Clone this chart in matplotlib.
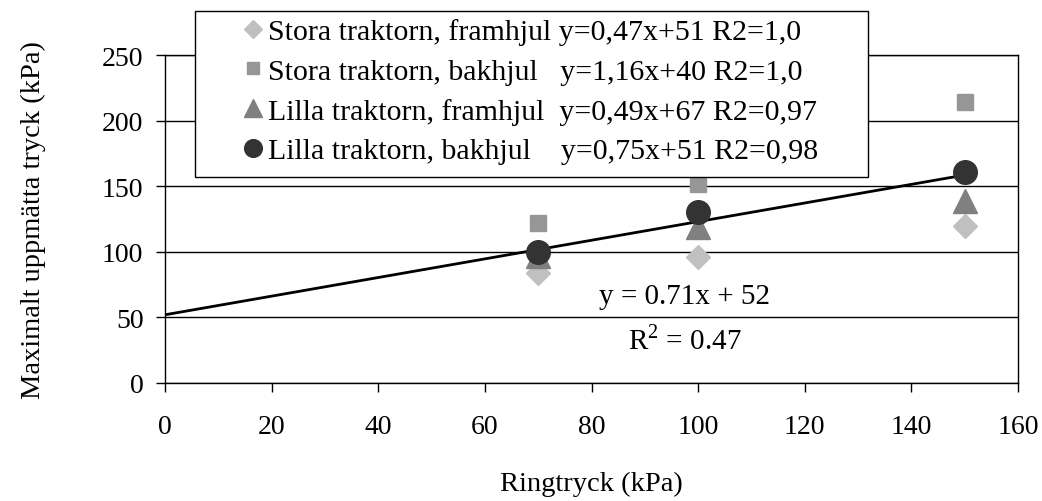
import matplotlib.pyplot as plt
from matplotlib.patches import Rectangle

plt.rcParams['font.family'] = ['Liberation Serif', 'DejaVu Serif']
plt.rcParams['mathtext.fontset'] = 'custom'
plt.rcParams['mathtext.rm'] = 'Liberation Serif'

# Ringtryck (kPa)
ringtryck = [70, 100, 150]

# Maximalt uppmätta tryck (kPa) per serie
stora_fram = [84, 96, 120]
stora_bak = [122, 152, 214]
lilla_fram = [97, 119, 139]
lilla_bak = [100, 130, 161]

etiketter = [
    'Stora traktorn, framhjul y=0,47x+51 R2=1,0',
    'Stora traktorn, bakhjul   y=1,16x+40 R2=1,0',
    'Lilla traktorn, framhjul  y=0,49x+67 R2=0,97',
    'Lilla traktorn, bakhjul    y=0,75x+51 R2=0,98',
]

# Gemensam trendlinje
k, m = 0.71, 52
trend_x = [0, 150]

W, H = 1042, 502
fig = plt.figure(figsize=(W / 100, H / 100), dpi=100)
ax = fig.add_axes([165 / W, 1 - 384 / H, (1018 - 165) / W, (384 - 56) / H])

ax.set_axisbelow(True)
ax.grid(axis='y', color='black', linewidth=1.0)

ax.plot(trend_x, [k * x + m for x in trend_x], color='black', linewidth=2, zorder=4)

ax.plot(ringtryck, stora_fram, linestyle='none', marker='D', markersize=12,
        color='#c0c0c0', label=etiketter[0], zorder=3)
ax.plot(ringtryck, stora_bak, linestyle='none', marker='s', markersize=11,
        color='#969696', label=etiketter[1], zorder=3)
ax.plot(ringtryck, lilla_fram, linestyle='none', marker='^', markersize=17,
        color='#808080', label=etiketter[2], zorder=3)
ax.plot(ringtryck, lilla_bak, linestyle='none', marker='o', markersize=17,
        color='#333333', label=etiketter[3], zorder=5)

ax.text(97.5, 66, 'y = 0.71x + 52', fontsize=21, ha='center', va='center')
ax.text(97.5, 33, 'R$^2$ = 0.47', fontsize=21, ha='center', va='center')

ax.set_xlim(0, 160)
ax.set_ylim(0, 250)
ax.set_xticks(range(0, 161, 20))
ax.set_yticks(range(0, 251, 50))
ax.tick_params(labelsize=20, direction='out', length=6.5, width=1)
ax.tick_params(axis='x', pad=16)
ax.tick_params(axis='y', pad=9)
for s in ax.spines.values():
    s.set_linewidth(1.0)

ax.set_xlabel('Ringtryck (kPa)', fontsize=20.5, labelpad=23)
ax.set_ylabel('Maximalt uppmätta tryck (kPa)', fontsize=20.5, labelpad=40)

# legendram (som i Excel, bredare än texten)
ram = Rectangle((195 / W, 1 - 178 / H), (868 - 195) / W, (178 - 12) / H,
                transform=fig.transFigure, facecolor='white', edgecolor='black',
                linewidth=1.0, zorder=9, clip_on=False)
ax.add_patch(ram)

leg = ax.legend(loc='upper left', bbox_to_anchor=(238 / W, 1 - 19 / H),
                bbox_transform=fig.transFigure, fontsize=21.5, markerscale=0.75,
                frameon=False, handlelength=1.0, handletextpad=0.0,
                labelspacing=0.43, borderpad=0, borderaxespad=0)
leg.set_zorder(10)

fig.savefig('out.png', dpi=100)
